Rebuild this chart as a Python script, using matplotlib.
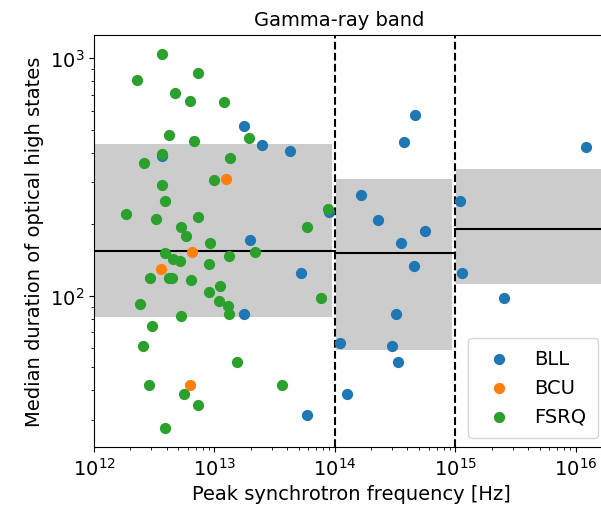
import numpy as np
import matplotlib
matplotlib.use("Agg")
import matplotlib.pyplot as plt

# peak synchrotron frequency [Hz] and median duration
bll_nu = [1.75e13, 2.49e13, 4.21e13, 3.65e12, 8.9e13, 1.98e13, 5.22e13, 1.77e13,
          5.82e13, 4.61e14, 3.76e14, 1.22e16, 1.65e14, 1.10e15, 2.26e14, 5.61e14,
          3.53e14, 4.53e14, 1.13e15, 2.54e15, 3.21e14, 1.10e14, 2.96e14, 3.34e14,
          1.26e14]
bll_dur = [519, 429, 407, 388, 225, 172, 125, 83.6,
           31.5, 574, 442, 421, 264, 251, 209, 188,
           166, 133, 125, 98, 83.5, 63, 61.3, 52.5,
           38.5]

bcu_nu = [1.24e13, 6.50e12, 3.62e12, 6.22e12]
bcu_dur = [310, 153, 129, 42]

fsrq_nu = [3.65e12, 2.26e12, 7.26e12, 4.73e12, 6.22e12, 1.20e13, 4.17e12, 6.76e12,
           1.95e13, 3.65e12, 2.60e12, 1.35e13, 1.00e13, 3.65e12, 3.88e12, 1.85e12,
           3.29e12, 7.26e12, 8.75e13, 5.89e13, 5.30e12, 5.77e12, 9.12e12, 3.88e12,
           4.55e12, 5.20e12, 1.33e13, 2.18e13, 9.06e12, 2.92e12, 4.17e12, 4.47e12,
           6.34e12, 1.11e13, 9.06e12, 1.09e13, 1.30e13, 1.33e13, 2.39e12, 7.61e13,
           5.30e12, 3.03e12, 2.54e12, 1.53e13, 2.86e12, 5.55e12, 7.26e12, 3.63e13,
           3.88e12]
fsrq_dur = [1042, 811, 863, 711, 658, 655, 474, 446,
            461, 393, 362, 380, 308, 293, 251, 221,
            210, 214, 231, 195, 195, 179, 166, 151,
            143, 140, 147, 153, 136, 119, 119, 119,
            116, 110, 104, 94.7, 90.5, 83.5, 92.3, 98,
            81.9, 74.6, 61.3, 52.5, 42.1, 38.4, 34.8, 42.1,
            27.7]

# frequency bins with median and spread of the duration
bin_lo = [1e12, 1e14, 1e15]
bin_hi = [1e14, 1e15, 1.85e16]
band_lo = [81, 59.2, 112]
band_hi = [435, 309, 341]
bin_median = [154, 151, 190]

fig = plt.figure(figsize=(6.01, 5.1), dpi=100)
ax = fig.add_axes([0.1564, 0.121, 0.8552, 0.809])

for lo, hi, blo, bhi, med in zip(bin_lo, bin_hi, band_lo, band_hi, bin_median):
    ax.fill_between([lo * 1.02, hi * 0.94], blo, bhi, color='0.8', lw=0, zorder=0)
    ax.plot([lo, hi], [med, med], color='black', lw=1.5, zorder=1)

for edge in bin_hi[:2]:
    ax.axvline(edge, color='black', ls='--', lw=1.5, zorder=1)

ax.scatter(bll_nu, bll_dur, s=50, color='tab:blue', label='BLL', zorder=2)
ax.scatter(bcu_nu, bcu_dur, s=50, color='tab:orange', label='BCU', zorder=2)
ax.scatter(fsrq_nu, fsrq_dur, s=50, color='tab:green', label='FSRQ', zorder=2)

ax.set_xscale('log')
ax.set_yscale('log')
ax.set_xlim(1e12, 1.85e16)
ax.set_ylim(23.0, 1254)

ax.set_xlabel('Peak synchrotron frequency [Hz]', fontsize=14)
ax.set_ylabel('Median duration of optical high states', fontsize=14)
ax.tick_params(labelsize=14)
ax.text(0.477, 1.015, 'Gamma-ray band', transform=ax.transAxes,
        ha='center', va='bottom', fontsize=14)
ax.legend(loc='lower right', fontsize=14, borderpad=0.6)

fig.savefig('out.png')
